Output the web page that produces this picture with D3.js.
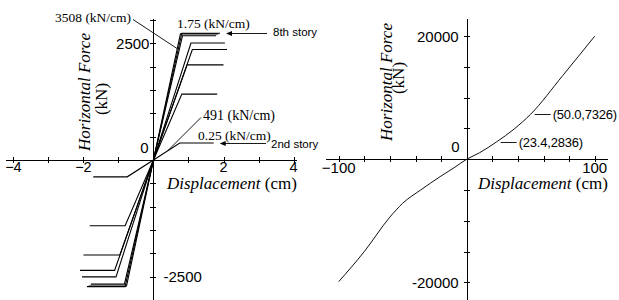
<!DOCTYPE html>
<html>
<head>
<meta charset="utf-8">
<script src="https://cdn.jsdelivr.net/npm/d3@7"></script>
<style>
    body { margin: 0; background: #fff; }
    svg { display: block; }
    .axis path, .axis line { stroke: #000; stroke-width: 1px; shape-rendering: crispEdges; }
    .num { font-family: "Liberation Sans", Arial, sans-serif; font-size: 15px; fill: #000; }
    .serif { font-family: "Liberation Serif", "Times New Roman", serif; fill: #000; }
    .sans { font-family: "Liberation Sans", Arial, sans-serif; fill: #000; }
</style>
</head>
<body>
<div id="vis"></div>
<script>
// left panel: bilinear envelope of each story
var stories = ["1st", "2nd", "3rd", "4th", "5th", "6th", "7th", "8th"];
var yieldDisp = [0.77, 0.75, 0.81, 0.96, 1.07, 1.11, 0.83, 0.81];   // cm
var yieldForce = [2700, 362, 1410, 2035, 2505, 2365, 2660, 2714];  // kN
var endDisp = [1.85, 1.72, 1.82, 2.0, 2.04, 2.1, 1.79, 1.9];       // cm

var storyXTicks = [-4, -3, -2, -1, 1, 2, 3, 4];
var storyXLabels = [-4, -2, 2, 4];
var storyYTicks = [-2500, -2000, -1500, -1000, -500, 500, 1000, 1500, 2000, 2500, 3000];

// right panel: whole structure curve
var curveDisp = [-100, -80, -60, -50, -36, -20.8, -10, 0, 10, 23.4, 37, 50, 75, 100];
var curveForce = [-19900, -15000, -9400, -7150, -5000, -2830, -1400, 0, 1050, 2836, 4900, 7326, 13600, 20000];
var markedPoints = [9, 11];   // indexes of the annotated points

var structXTicks = [-100, -80, -60, -40, -20, 20, 40, 60, 80, 100];
var structXLabels = [-100, 100];
var structYTicks = [-20000, -15000, -10000, -5000, 5000, 10000, 15000, 20000];

var width = 619, height = 300;

var svg = d3.select("#vis")
    .append("svg")
    .attr("width", width)
    .attr("height", height);

var xL = d3.scaleLinear().domain([-4.24, 4.07]).range([5, 296]);
var yL = d3.scaleLinear().domain([-3000, 3040]).range([300, 18]);

var xR = d3.scaleLinear().domain([-110.7, 109.6]).range([325, 607]);
var yR = d3.scaleLinear().domain([-22880, 22960]).range([300, 18]);

function minus(v) { return v < 0 ? "\u2212" + Math.abs(v) : "" + v; }

// axes crossing at the origin, ticks drawn through the axis line
function drawAxes(x, y, xTicks, yTicks) {
    var gx = svg.append("g")
        .attr("class", "axis")
        .attr("transform", "translate(0," + Math.round(y(0)) + ")")
        .call(d3.axisBottom(x).tickValues(xTicks).tickFormat("").tickSizeOuter(0).tickSizeInner(3));
    gx.selectAll(".tick line").attr("y1", -3).attr("y2", 3);

    var gy = svg.append("g")
        .attr("class", "axis")
        .attr("transform", "translate(" + Math.round(x(0)) + ",0)")
        .call(d3.axisLeft(y).tickValues(yTicks).tickFormat("").tickSizeOuter(0).tickSizeInner(3));
    gy.selectAll(".tick line").attr("x1", -3).attr("x2", 3);
}

drawAxes(xL, yL, storyXTicks, storyYTicks);
drawAxes(xR, yR, structXTicks, structYTicks);

// tick labels
svg.selectAll(".xlabL")
    .data(storyXLabels)
    .enter().append("text")
    .attr("class", "num")
    .attr("x", d => xL(d))
    .attr("y", yL(0) + 12.5)
    .attr("text-anchor", "middle")
    .style("font-size", "14.5px")
    .text(d => minus(d));

svg.append("text").attr("class", "num")
    .attr("x", xL(0) - 4).attr("y", yL(2500) + 5.5)
    .attr("text-anchor", "end").text("2500");
svg.append("text").attr("class", "num")
    .attr("x", xL(0) + 10).attr("y", yL(-2500) + 5.5)
    .attr("text-anchor", "start").text("-2500");
svg.append("text").attr("class", "num")
    .attr("x", xL(0) - 5).attr("y", yL(0) - 6.5)
    .attr("text-anchor", "end").text("0");

svg.selectAll(".xlabR")
    .data(structXLabels)
    .enter().append("text")
    .attr("class", "num")
    .attr("x", d => xR(d))
    .attr("y", yR(0) + 13.5)
    .attr("text-anchor", "middle")
    .text(d => minus(d));

svg.append("text").attr("class", "num")
    .attr("x", xR(0) - 8).attr("y", yR(20000) + 5.5)
    .attr("text-anchor", "end").text("20000");
svg.append("text").attr("class", "num")
    .attr("x", xR(0) - 8).attr("y", yR(-20000) + 5.5)
    .attr("text-anchor", "end").text("-20000");
svg.append("text").attr("class", "num")
    .attr("x", xR(0) - 7).attr("y", yR(0) - 7)
    .attr("text-anchor", "end").text("0");

// axis titles
function axisTitles(fx, fy, kx, ky, dx) {
    svg.append("text")
        .attr("class", "serif")
        .attr("transform", "translate(" + fx + "," + fy + ") rotate(-90)")
        .attr("text-anchor", "middle")
        .style("font-size", "17px")
        .style("font-style", "italic")
        .text("Horizontal Force");
    svg.append("text")
        .attr("class", "serif")
        .attr("transform", "translate(" + kx + "," + ky + ") rotate(-90)")
        .attr("text-anchor", "middle")
        .style("font-size", "17px")
        .text("(kN)");

    var t = svg.append("text")
        .attr("class", "serif")
        .attr("x", dx)
        .attr("y", 189)
        .style("font-size", "17px");
    t.append("tspan").style("font-style", "italic").text("Displacement");
    t.append("tspan").text(" (cm)");
}
axisTitles(90, 92, 107, 99, 167);
axisTitles(392, 82, 404, 78, 478);

// story curves
var lineL = d3.line().x(d => xL(d[0])).y(d => yL(d[1]));

var storyData = stories.map(function (s, i) {
    return [
        [-endDisp[i], -yieldForce[i]],
        [-yieldDisp[i], -yieldForce[i]],
        [0, 0],
        [yieldDisp[i], yieldForce[i]],
        [endDisp[i], yieldForce[i]]
    ];
});

svg.selectAll("path.story")
    .data(storyData)
    .enter().append("path")
    .attr("class", "story")
    .attr("d", lineL)
    .attr("fill", "none")
    .attr("stroke", "#000")
    .attr("stroke-width", 1.1);

// structure curve
var curve = curveDisp.map((d, i) => [d, curveForce[i]]);
svg.append("path")
    .datum(curve)
    .attr("d", d3.line().x(d => xR(d[0])).y(d => yR(d[1])).curve(d3.curveMonotoneX))
    .attr("fill", "none")
    .attr("stroke", "#111")
    .attr("stroke-width", 1);

// annotations
function leader(x1, y1, x2, y2) {
    svg.append("line")
        .attr("x1", x1).attr("y1", y1).attr("x2", x2).attr("y2", y2)
        .attr("stroke", "#000").attr("stroke-width", 0.9);
}
function arrowLeft(x1, x2, y) {
    leader(x1, y, x2 + 5, y);
    svg.append("path")
        .attr("d", "M" + x2 + "," + y + "l6,-2.5v5z")
        .attr("fill", "#000");
}
function note(cls, size, x, y, txt) {
    svg.append("text").attr("class", cls)
        .attr("x", x).attr("y", y)
        .style("font-size", size + "px")
        .text(txt);
}

note("serif", 13.5, 55, 21.5, "3508 (kN/cm)");
leader(133, 19.5, 177, 48.5);
note("serif", 13.5, 177, 28, "1.75 (kN/cm)");
note("sans", 11.5, 273, 36, "8th story");
arrowLeft(267, xL(endDisp[7]) + 6, Math.round(yL(yieldForce[7])) + 0.5);

note("serif", 14, 203, 120, "491 (kN/cm)");
leader(201, 117.5, 168, 150.5);
note("serif", 13.5, 198, 140, "0.25 (kN/cm)");
note("sans", 11.5, 271, 147.5, "2nd story");
arrowLeft(266, xL(endDisp[1]) + 6, Math.round(yL(yieldForce[1])) + 0.5);

markedPoints.forEach(function (k) {
    var px = xR(curveDisp[k]), py = Math.round(yR(curveForce[k])) + 0.5;
    leader(px + 4, py, px + 20, py);
    svg.append("text").attr("class", "sans")
        .attr("x", px + 22).attr("y", py + 4.5)
        .style("font-size", "13px")
        .style("letter-spacing", "-0.2px")
        .text("(" + curveDisp[k].toFixed(1) + "," + curveForce[k] + ")");
});
</script>
</body>
</html>
